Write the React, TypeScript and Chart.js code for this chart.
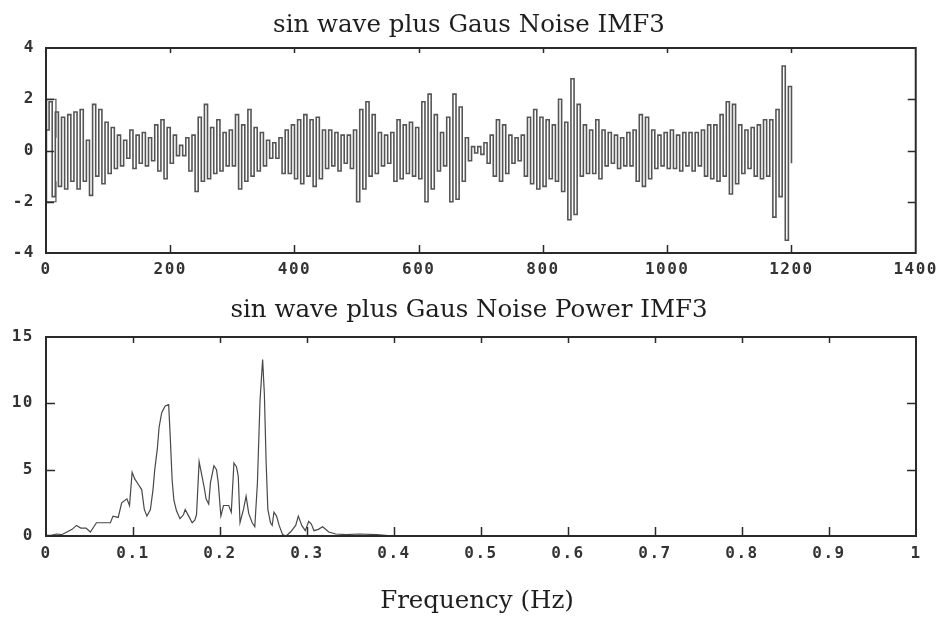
import React, { useEffect, useRef } from "react";
import { Chart, registerables } from "chart.js";

Chart.register(...registerables);

// ---------- data ----------
const imfTitle = "sin wave plus Gaus Noise IMF3";
const powerTitle = "sin wave plus Gaus Noise Power IMF3";
const powerXLabel = "Frequency (Hz)";

// IMF3 signal, one value every imfStep samples (0 .. 1200)
const imfStep = 5;
const imfValues = [
  0.8, 1.9, -1.8, 1.5, -1.4, 1.3, -1.5, 1.4, -1.2, 1.5,
  -1.5, 1.6, -1.2, 0.4, -1.75, 1.8, -1.0, 1.6, -1.3, 1.1,
  -0.9, 0.9, -0.7, 0.6, -0.6, 0.4, -0.3, 0.8, -0.7, 0.6,
  -0.5, 0.7, -0.6, 0.5, -0.4, 1.0, -0.8, 1.2, -1.1, 0.9,
  -0.5, 0.6, -0.2, 0.2, -0.2, 0.5, -0.8, 0.6, -1.6, 1.3,
  -1.2, 1.8, -1.1, 0.9, -0.9, 1.2, -0.8, 0.7, -0.6, 0.8,
  -0.6, 1.4, -1.5, 1.0, -1.2, 1.6, -1.0, 0.9, -0.8, 0.7,
  -0.6, 0.4, -0.3, 0.3, -0.3, 0.5, -0.9, 0.8, -0.9, 1.0,
  -1.1, 1.2, -1.3, 1.4, -1.0, 1.2, -1.4, 1.3, -1.1, 0.8,
  -0.7, 0.8, -0.6, 0.7, -0.8, 0.6, -0.5, 0.6, -0.7, 0.8,
  -2.0, 1.6, -1.5, 1.9, -1.0, 1.4, -0.9, 0.7, -0.6, 0.6,
  -0.5, 0.7, -1.2, 1.2, -1.1, 1.0, -0.9, 1.1, -1.0, 0.9,
  -1.1, 1.9, -2.0, 2.2, -1.5, 1.4, -0.8, 0.7, -0.6, 1.3,
  -2.0, 2.2, -1.9, 1.7, -1.2, 0.5, -0.4, 0.15, -0.1, 0.15,
  -0.15, 0.3, -0.5, 0.6, -1.0, 1.2, -1.2, 1.0, -0.9, 0.6,
  -0.5, 0.5, -0.4, 0.6, -1.0, 1.3, -1.3, 1.6, -1.5, 1.3,
  -1.4, 1.2, -1.1, 1.0, -1.2, 2.0, -1.6, 1.1, -2.7, 2.8,
  -2.5, 1.8, -1.0, 1.0, -0.9, 0.8, -0.9, 1.2, -1.1, 0.8,
  -0.6, 0.7, -0.5, 0.6, -0.7, 0.5, -0.6, 0.7, -0.6, 0.8,
  -1.2, 1.4, -1.4, 1.3, -1.1, 0.8, -0.7, 0.6, -0.6, 0.7,
  -0.7, 0.8, -0.7, 0.6, -0.8, 0.7, -0.6, 0.7, -0.8, 0.7,
  -0.6, 0.8, -1.0, 1.0, -1.1, 1.0, -1.2, 1.4, -1.0, 1.9,
  -1.7, 1.8, -1.3, 1.0, -0.9, 0.8, -0.7, 0.9, -1.0, 1.0,
  -1.1, 1.2, -1.0, 1.2, -2.6, 1.6, -1.8, 3.3, -3.5, 2.5,
  -0.5,
];

// little start-up box at the beginning of the record
const imfEdgeX = [16, 16, 1, 1, 16, 16];
const imfEdgeY = [0.5, 2, 2, -2, -2, -1.2];

// power spectrum
const freqs = [
  0, 0.006, 0.012, 0.018, 0.024, 0.03, 0.035, 0.04, 0.046, 0.051,
  0.055, 0.058, 0.066, 0.074, 0.077, 0.083, 0.087, 0.093, 0.096, 0.099,
  0.102, 0.106, 0.11, 0.113, 0.116, 0.12, 0.123, 0.125, 0.128, 0.13,
  0.133, 0.137, 0.141, 0.143, 0.145, 0.147, 0.15, 0.154, 0.158, 0.16,
  0.164, 0.168, 0.171, 0.173, 0.176, 0.179, 0.182, 0.184, 0.187, 0.189,
  0.193, 0.196, 0.198, 0.201, 0.204, 0.21, 0.213, 0.216, 0.219, 0.221,
  0.223, 0.227, 0.23, 0.233, 0.237, 0.24, 0.243, 0.246, 0.249, 0.251,
  0.253, 0.255, 0.258, 0.26, 0.262, 0.265, 0.268, 0.272, 0.276, 0.281,
  0.287, 0.29, 0.294, 0.298, 0.302, 0.305, 0.308, 0.313, 0.318, 0.325,
  0.333, 0.345, 0.36, 0.38, 0.4, 1.0,
];
const power = [
  0.05, 0.05, 0.15, 0.1, 0.3, 0.5, 0.8, 0.6, 0.6, 0.3,
  0.7, 1.0, 1.0, 1.0, 1.5, 1.4, 2.5, 2.8, 2.3, 4.8,
  4.3, 3.9, 3.5, 2.0, 1.5, 2.0, 3.5, 5.0, 6.6, 8.2,
  9.3, 9.8, 9.9, 7.2, 4.2, 2.7, 1.9, 1.3, 1.6, 2.0,
  1.5, 1.0, 1.2, 1.6, 5.6, 4.6, 3.6, 2.8, 2.4, 4.0,
  5.3, 5.0, 4.0, 1.5, 2.3, 2.3, 1.8, 5.5, 5.2, 4.5,
  1.0, 2.0, 3.0, 1.7, 1.0, 0.7, 4.0, 10.2, 13.3, 10.7,
  5.6, 2.0, 1.0, 0.8, 1.8, 1.5, 0.8, 0.1, 0.0, 0.3,
  0.8, 1.5, 0.8, 0.4, 1.1, 0.9, 0.4, 0.5, 0.7, 0.3,
  0.15, 0.1, 0.15, 0.1, 0.0, 0.0,
];

// ---------- styling helpers ----------
const tickFont = { family: '"DejaVu Sans Mono", monospace', size: 16, weight: "bold" as const };
const tickColor = "#333";
const serif = '24.5px "DejaVu Serif", serif';

type FrameOpts = {
  title: string;
  titleX: number;
  titleY: number;
  xLabel?: string;
  xLabelX?: number;
  xLabelY?: number;
  tick: number;
  topTick: number;
};

function matlabFrame(o: FrameOpts) {
  return {
    id: "matlabFrame",
    beforeDraw(chart: any) {
      chart.ctx.letterSpacing = "1.5px";
    },
    afterDraw(chart: any) {
      const ctx = chart.ctx as CanvasRenderingContext2D;
      const a = chart.chartArea;
      const xs = chart.scales.x;
      const ys = chart.scales.y;
      ctx.save();
      (ctx as any).letterSpacing = "0px";
      ctx.strokeStyle = "#2a2a2a";
      ctx.lineWidth = 2;
      ctx.strokeRect(a.left, a.top, a.right - a.left, a.bottom - a.top);
      ctx.lineWidth = 1.5;
      ctx.beginPath();
      xs.ticks.forEach((t: any) => {
        const px = Math.round(xs.getPixelForValue(t.value)) + 0.5;
        if (px <= a.left + 2 || px >= a.right - 2) return;
        ctx.moveTo(px, a.bottom);
        ctx.lineTo(px, a.bottom - o.tick);
        ctx.moveTo(px, a.top);
        ctx.lineTo(px, a.top + o.topTick);
      });
      ys.ticks.forEach((t: any) => {
        const py = Math.round(ys.getPixelForValue(t.value)) + 0.5;
        if (py <= a.top + 2 || py >= a.bottom - 2) return;
        ctx.moveTo(a.left, py);
        ctx.lineTo(a.left + o.tick, py);
        ctx.moveTo(a.right, py);
        ctx.lineTo(a.right - o.tick, py);
      });
      ctx.stroke();
      ctx.fillStyle = "#1e1e1e";
      ctx.font = serif;
      ctx.textAlign = "center";
      ctx.textBaseline = "alphabetic";
      ctx.fillText(o.title, o.titleX, o.titleY);
      if (o.xLabel) ctx.fillText(o.xLabel, o.xLabelX!, o.xLabelY!);
      ctx.restore();
    },
  };
}

export default function App() {
  const topRef = useRef<HTMLCanvasElement>(null);
  const botRef = useRef<HTMLCanvasElement>(null);

  useEffect(() => {
    const imfData = imfValues.map((v, i) => ({ x: i * imfStep, y: v }));
    const edgeData = imfEdgeX.map((x, i) => ({ x, y: imfEdgeY[i] }));
    const powerData = freqs.map((f, i) => ({ x: f, y: power[i] }));

    const c1 = new Chart(topRef.current!, {
      type: "line",
      data: {
        datasets: [
          {
            data: imfData,
            borderColor: "#555555",
            borderWidth: 1.6,
            stepped: true,
            pointRadius: 0,
          },
          {
            data: edgeData,
            borderColor: "#505050",
            borderWidth: 1.2,
            pointRadius: 0,
          },
        ],
      },
      options: {
        responsive: false,
        animation: false,
        layout: { padding: { top: 48, right: 25, left: 0, bottom: 0 } },
        plugins: { legend: { display: false }, tooltip: { enabled: false }, title: { display: false } },
        scales: {
          x: {
            type: "linear",
            min: 0,
            max: 1400,
            afterFit: (s: any) => { s.height = 27; },
            grid: { display: false, drawTicks: false },
            border: { display: false },
            ticks: {
              stepSize: 200,
              autoSkip: false,
              maxRotation: 0,
              padding: 7,
              color: tickColor,
              font: tickFont,
              callback: (v: any) => String(v),
            },
          },
          y: {
            type: "linear",
            min: -4,
            max: 4,
            afterFit: (s: any) => { s.width = 46; },
            grid: { display: false, drawTicks: false },
            border: { display: false },
            ticks: {
              stepSize: 2,
              padding: 11,
              color: tickColor,
              font: tickFont,
              callback: (v: any) => String(v),
            },
          },
        },
      },
      plugins: [matlabFrame({ title: imfTitle, titleX: 469, titleY: 32, tick: 8, topTick: 5 })],
    } as any);

    const c2 = new Chart(botRef.current!, {
      type: "line",
      data: {
        datasets: [
          {
            data: powerData,
            borderColor: "#484848",
            borderWidth: 1.2,
            pointRadius: 0,
          },
        ],
      },
      options: {
        responsive: false,
        animation: false,
        layout: { padding: { top: 57, right: 26, left: 0, bottom: 0 } },
        plugins: { legend: { display: false }, tooltip: { enabled: false }, title: { display: false } },
        scales: {
          x: {
            type: "linear",
            min: 0,
            max: 1,
            afterFit: (s: any) => { s.height = 83; },
            grid: { display: false, drawTicks: false },
            border: { display: false },
            ticks: {
              stepSize: 0.1,
              autoSkip: false,
              maxRotation: 0,
              padding: 8,
              color: tickColor,
              font: tickFont,
              callback: (v: any) => String(Math.round(Number(v) * 10) / 10),
            },
          },
          y: {
            type: "linear",
            min: 0,
            max: 15,
            afterFit: (s: any) => { s.width = 46; },
            grid: { display: false, drawTicks: false },
            border: { display: false },
            ticks: {
              stepSize: 5,
              padding: 12,
              color: tickColor,
              font: tickFont,
              callback: (v: any) => String(v),
            },
          },
        },
      },
      plugins: [
        matlabFrame({
          title: powerTitle,
          titleX: 469,
          titleY: 37,
          xLabel: powerXLabel,
          xLabelX: 477,
          xLabelY: 328,
          tick: 9,
          topTick: 6,
        }),
      ],
    } as any);

    return () => {
      c1.destroy();
      c2.destroy();
    };
  }, []);

  return (
    <div style={{ position: "absolute", left: 0, top: 0, width: 942, height: 619, background: "#fff" }}>
      <canvas ref={topRef} width={942} height={280} style={{ display: "block", width: 942, height: 280 }} />
      <canvas ref={botRef} width={942} height={339} style={{ display: "block", width: 942, height: 339 }} />
    </div>
  );
}
